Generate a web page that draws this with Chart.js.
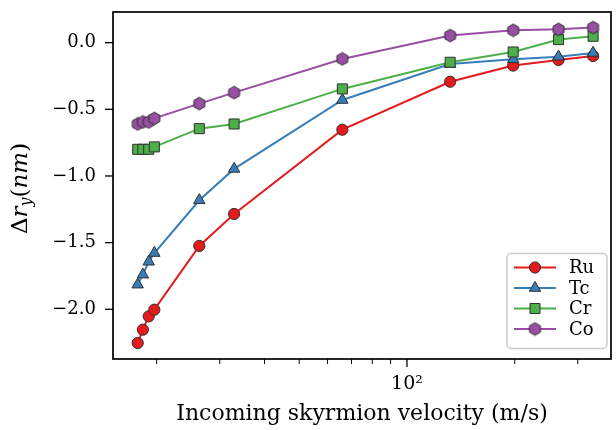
<!DOCTYPE html>
<html><head><meta charset="utf-8">
<script src="https://cdn.jsdelivr.net/npm/chart.js@4.4.1/dist/chart.umd.min.js"></script>
<style>html,body{margin:0;padding:0;background:#fff}#wrap{width:616px;height:430px;position:relative}</style>
</head><body><div id="wrap"><canvas id="c"></canvas></div>
<script>
// ---- data ----
const velocities = [17.7, 18.3, 19.0, 19.7, 26.3, 32.9, 66, 132, 198, 265, 331];
const ruValues = [-2.253, -2.153, -2.053, -2.003, -1.525, -1.285, -0.653, -0.293, -0.172, -0.130, -0.100];
const tcValues = [-1.815, -1.740, -1.643, -1.578, -1.182, -0.947, -0.430, -0.160, -0.125, -0.105, -0.077];
const crValues = [-0.800, -0.800, -0.800, -0.782, -0.645, -0.610, -0.347, -0.147, -0.070, 0.023, 0.048];
const coValues = [-0.610, -0.595, -0.595, -0.568, -0.457, -0.375, -0.122, 0.053, 0.093, 0.100, 0.113];
const seriesNames = ['Ru', 'Tc', 'Cr', 'Co'];
const yTickValues = [-2.0, -1.5, -1.0, -0.5, 0.0];
const xMajorTicks = [100];
const xMinorTicks = [20, 30, 40, 50, 60, 70, 80, 90, 200, 300];
const xTitle = 'Incoming skyrmion velocity (m/s)';

// ---- styles ----
const SERIF = '"DejaVu Serif", "Liberation Serif", serif';
const colors = ['#e41a1c', '#377eb8', '#4daf4a', '#984ea3'];
const EDGE = '#303030';

function hexagonCanvas(fill) {
  const s = 15, c = document.createElement('canvas');
  c.width = s; c.height = s;
  const g = c.getContext('2d');
  const r = 6.3, cx = s / 2, cy = s / 2;
  g.beginPath();
  for (let i = 0; i < 6; i++) {
    const ang = -Math.PI / 2 + i * Math.PI / 3;
    const px = cx + r * Math.cos(ang), py = cy + r * Math.sin(ang);
    i ? g.lineTo(px, py) : g.moveTo(px, py);
  }
  g.closePath();
  g.fillStyle = fill; g.fill();
  g.strokeStyle = EDGE; g.lineWidth = 1; g.stroke();
  return c;
}
const hexImg = hexagonCanvas(colors[3]);

const seriesValues = [ruValues, tcValues, crValues, coValues];
const pointStyles = ['circle', 'triangle', 'rect', hexImg];
const pointRadii = [5.6, 6.6, 7.1, 6];

const datasets = seriesValues.map((vals, i) => ({
  label: seriesNames[i],
  data: velocities.map((v, j) => ({ x: v, y: vals[j] })),
  borderColor: colors[i],
  backgroundColor: colors[i],
  borderWidth: 2,
  pointStyle: pointStyles[i],
  pointRadius: pointRadii[i],
  pointBorderColor: EDGE,
  pointBorderWidth: 1,
  pointBackgroundColor: colors[i],
  tension: 0,
  order: 4 - i
}));

function fmtY(v) {
  const s = Math.abs(v).toFixed(1);
  return (v < -1e-9 ? '\u2212' : '') + s;
}

function drawShape(ctx, style, r, x, y) {
  if (style === 'circle') { ctx.arc(x, y, r, 0, Math.PI * 2); }
  else if (style === 'triangle') {
    const w = r * Math.sqrt(3);
    ctx.moveTo(x, y - r); ctx.lineTo(x - w / 2, y + r / 2); ctx.lineTo(x + w / 2, y + r / 2); ctx.closePath();
  } else if (style === 'rect') {
    const s = r * Math.SQRT1_2; ctx.rect(x - s, y - s, 2 * s, 2 * s);
  }
}

const decor = {
  id: 'decor',
  afterDraw(chart) {
    const { ctx, chartArea: a, scales: { x, y } } = chart;
    ctx.save();
    ctx.strokeStyle = '#000';
    ctx.lineWidth = 1.3;
    const seg = (x1, y1, x2, y2) => { ctx.beginPath(); ctx.moveTo(x1, y1); ctx.lineTo(x2, y2); ctx.stroke(); };
    yTickValues.forEach(v => { const py = y.getPixelForValue(v); seg(a.left - 8, py, a.left, py); });
    xMajorTicks.forEach(v => { const px = x.getPixelForValue(v); seg(px, a.bottom, px, a.bottom + 8); });
    ctx.lineWidth = 1.0;
    xMinorTicks.forEach(v => { const px = x.getPixelForValue(v); seg(px, a.bottom, px, a.bottom + 5); });
    ctx.lineWidth = 1.7;
    ctx.strokeRect(a.left, a.top, a.right - a.left, a.bottom - a.top);

    // legend
    const bx = 507, by = 253.5, bw = 100, bh = 95, rr = 4;
    ctx.beginPath();
    ctx.moveTo(bx + rr, by); ctx.lineTo(bx + bw - rr, by); ctx.arcTo(bx + bw, by, bx + bw, by + rr, rr);
    ctx.lineTo(bx + bw, by + bh - rr); ctx.arcTo(bx + bw, by + bh, bx + bw - rr, by + bh, rr);
    ctx.lineTo(bx + rr, by + bh); ctx.arcTo(bx, by + bh, bx, by + bh - rr, rr);
    ctx.lineTo(bx, by + rr); ctx.arcTo(bx, by, bx + rr, by, rr); ctx.closePath();
    ctx.fillStyle = 'rgba(255,255,255,0.85)'; ctx.fill();
    ctx.strokeStyle = '#cccccc'; ctx.lineWidth = 1.5; ctx.stroke();
    const rows = [267.5, 288, 308.5, 329];
    chart.data.datasets.forEach((ds, i) => {
      const ry = rows[i];
      ctx.strokeStyle = ds.borderColor; ctx.lineWidth = ds.borderWidth;
      seg(514, ry, 556, ry);
      if (typeof ds.pointStyle === 'string') {
        ctx.fillStyle = ds.pointBackgroundColor; ctx.strokeStyle = EDGE; ctx.lineWidth = 1;
        ctx.beginPath();
        drawShape(ctx, ds.pointStyle, ds.pointRadius, 535, ry);
        ctx.fill(); ctx.stroke();
      } else {
        ctx.drawImage(ds.pointStyle, 535 - ds.pointStyle.width / 2, ry - ds.pointStyle.height / 2);
      }
      ctx.fillStyle = '#000';
      ctx.font = '18px ' + SERIF;
      ctx.textBaseline = 'middle'; ctx.textAlign = 'left';
      ctx.fillText(ds.label, 569, ry + 1);
    });

    // y axis title: Δr_y(nm)
    const cy = (a.top + a.bottom) / 2 + 3;
    const fBig = '23px ' + SERIF, fIt = 'italic 23px ' + SERIF, fSub = 'italic 16px ' + SERIF;
    const parts = [
      { t: '\u0394', f: fBig, dy: 0 },
      { t: 'r', f: fIt, dy: 0 },
      { t: 'y', f: fSub, dy: 4 },
      { t: '(', f: fBig, dy: 0 },
      { t: 'nm', f: fIt, dy: 0 },
      { t: ')', f: fBig, dy: 0 }
    ];
    let total = 0;
    parts.forEach(p => { ctx.font = p.f; p.w = ctx.measureText(p.t).width; total += p.w; });
    ctx.translate(27, cy);
    ctx.rotate(-Math.PI / 2);
    ctx.fillStyle = '#000'; ctx.textBaseline = 'alphabetic'; ctx.textAlign = 'left';
    let xx = -total / 2;
    parts.forEach(p => { ctx.font = p.f; ctx.fillText(p.t, xx, p.dy); xx += p.w; });
    ctx.restore();
  }
};

new Chart(document.getElementById('c'), {
  type: 'line',
  data: { datasets },
  options: {
    responsive: true,
    maintainAspectRatio: false,
    animation: false,
    events: [],
    layout: { autoPadding: false, padding: { top: 12, right: 5, left: 0, bottom: 0 } },
    plugins: { legend: { display: false }, tooltip: { enabled: false } },
    scales: {
      x: {
        type: 'logarithmic',
        min: 15.1, max: 371.4,
        grid: { display: false, drawTicks: false },
        border: { display: false },
        afterBuildTicks: s => { s.ticks = xMajorTicks.concat(xMinorTicks).sort((p, q) => p - q).map(v => ({ value: v })); },
        afterFit: s => { s.height = 71; s.paddingLeft = 0; s.paddingRight = 0; },
        ticks: {
          autoSkip: false, maxRotation: 0, padding: 14, color: '#000',
          font: { family: SERIF, size: 19 },
          callback: v => (xMajorTicks.includes(v) ? '10\u00b2' : '')
        },
        title: { display: true, text: xTitle, color: '#000', font: { family: SERIF, size: 22 }, padding: { top: 0, bottom: 3 } }
      },
      y: {
        type: 'linear',
        min: -2.373, max: 0.23,
        grid: { display: false, drawTicks: false },
        border: { display: false },
        afterBuildTicks: s => { s.ticks = yTickValues.map(v => ({ value: v })); },
        afterFit: s => { s.width = 113; s.paddingTop = 0; s.paddingBottom = 0; },
        ticks: { padding: 17, color: '#000', font: { family: SERIF, size: 18 }, callback: v => fmtY(v) }
      }
    }
  },
  plugins: [decor]
});
</script>
</body></html>
